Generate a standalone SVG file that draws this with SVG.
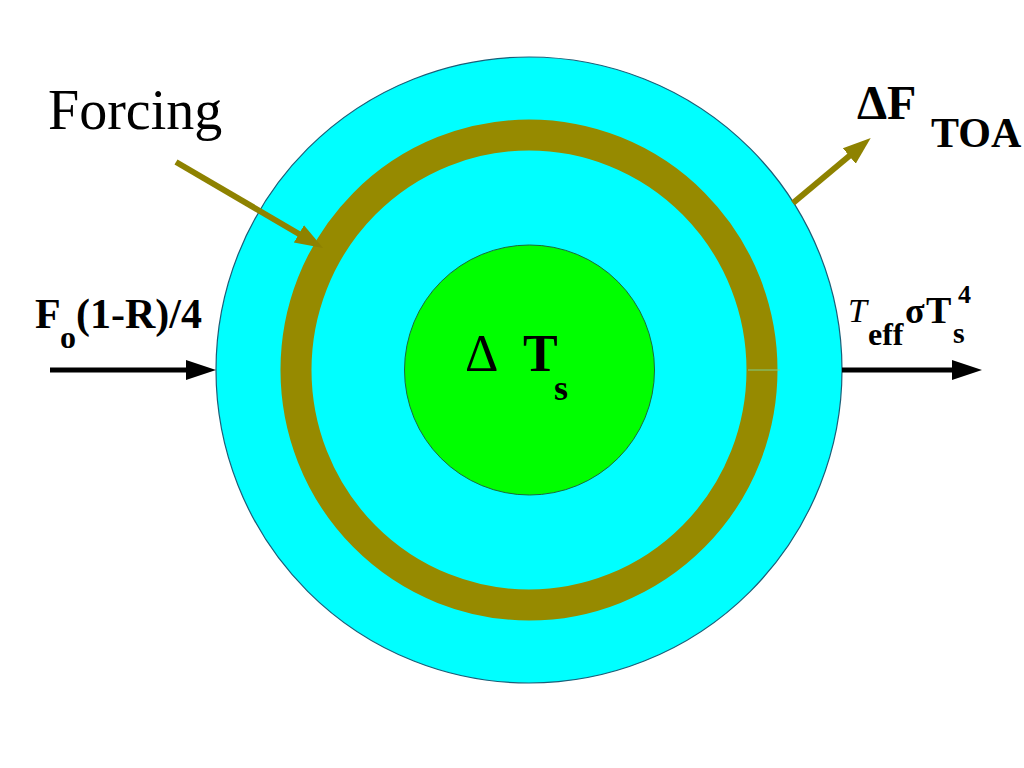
<svg xmlns="http://www.w3.org/2000/svg" width="1024" height="768" viewBox="0 0 1024 768">
<style>
.b{font-family:"Liberation Serif","Times New Roman",serif;font-weight:bold;fill:#000}
.r{font-family:"Liberation Serif","Times New Roman",serif;fill:#000}
.blk{stroke:#000;stroke-width:5;fill:none}
.olv{stroke:#8e8200;stroke-width:6;fill:none}
</style>
<defs>
<marker id="ahB" markerUnits="userSpaceOnUse" markerWidth="30" markerHeight="22" viewBox="0 0 30 22" refX="15" refY="11" orient="auto">
<path d="M0,1 L30,11 L0,21 z" fill="#000"/>
</marker>
<marker id="ahO" markerUnits="userSpaceOnUse" markerWidth="28" markerHeight="22" viewBox="0 0 28 22" refX="14" refY="11" orient="auto">
<path d="M0,1 L28,11 L0,21 z" fill="#8e8200"/>
</marker>
</defs>
<rect width="1024" height="768" fill="#fff"/>
<g id="outer">
<circle cx="529" cy="370" r="313" fill="#00ffff" stroke="#1b5e78" stroke-width="1.2"/>
</g>
<g id="ring">
<ellipse cx="529" cy="370" rx="233" ry="235" fill="none" stroke="#968a00" stroke-width="31"/>
<line x1="748" y1="370" x2="780" y2="370" stroke="#7fcf8a" stroke-width="1"/>
</g>
<g id="core">
<circle cx="529.5" cy="370" r="125" fill="#00ff00" stroke="#1b6b3a" stroke-width="1"/>
<text class="r" x="465" y="371" font-size="52">Δ</text>
<text class="b" x="523" y="371" font-size="52">T</text>
<text class="b" x="554" y="400" font-size="36">s</text>
</g>
<g id="connectors">
<line class="blk" x1="50" y1="370" x2="201" y2="370" marker-end="url(#ahB)"/>
<line class="blk" x1="842" y1="370" x2="967" y2="370" marker-end="url(#ahB)"/>
<line class="olv" x1="176" y1="162" x2="311" y2="241" marker-end="url(#ahO)"/>
<line class="olv" x1="793" y1="203" x2="860" y2="147" marker-end="url(#ahO)"/>
</g>
<g id="label-forcing">
<text class="r" x="48" y="129" font-size="56">Forcing</text>
</g>
<g id="label-toa">
<text class="b" x="857" y="119" font-size="48">ΔF</text>
<text class="b" x="931" y="147" font-size="42">TOA</text>
</g>
<g id="label-in">
<text class="b" x="35" y="328" font-size="42">F</text>
<text class="b" x="60" y="348" font-size="32">o</text>
<text class="b" x="76" y="328" font-size="42">(1-R)/4</text>
</g>
<g id="label-out">
<text class="r" x="848" y="322" font-size="34" font-style="italic">T</text>
<text class="b" x="868" y="345" font-size="32">eff</text>
<text class="b" x="905" y="323" font-size="36">σ</text>
<text class="b" x="926" y="323" font-size="38">T</text>
<text class="b" x="958" y="303" font-size="26">4</text>
<text class="b" x="953" y="343" font-size="30">s</text>
</g>
</svg>
